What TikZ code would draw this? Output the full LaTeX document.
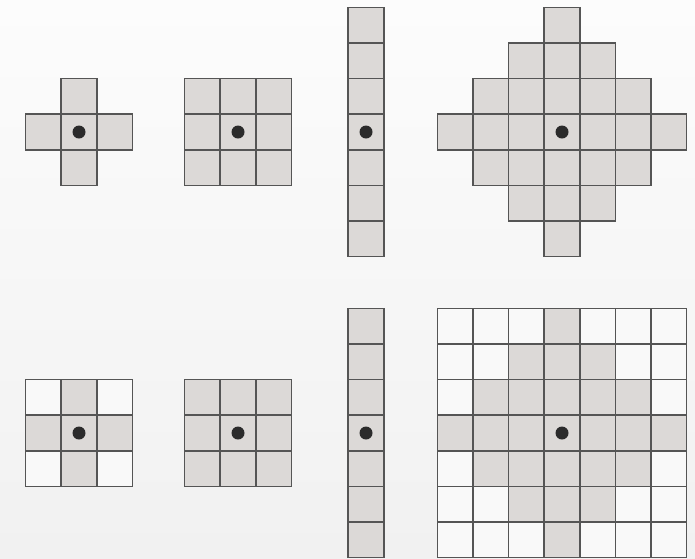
\documentclass[tikz,border=0pt]{standalone}
\definecolor{cellgray}{HTML}{DCD9D7}
\definecolor{cellwhite}{HTML}{F9F9F9}
\definecolor{gridline}{HTML}{555555}
\definecolor{dotc}{HTML}{2B2B2B}
\definecolor{bgtop}{HTML}{FCFCFC}
\definecolor{bgbottom}{HTML}{F1F1F1}
\tikzset{
  gcell/.style={fill=cellgray,draw=gridline,line width=1.5pt},
  wcell/.style={fill=cellwhite,draw=gridline,line width=1.5pt},
  centerdot/.style={fill=dotc}
}
\def\s{35.6}
\newcommand\drawcell[5]{\path[#1] ({#2+(#4-0.5)*\s},{#3+(#5-0.5)*\s}) rectangle ++(\s,\s);}
\newcommand\kdot[2]{\fill[centerdot] (#1,#2) circle (6.5);}
\begin{document}
\begin{tikzpicture}[x=1pt,y=-1pt]
\useasboundingbox (0,0) rectangle (695,558);
\shade[top color=bgtop,bottom color=bgbottom] (0,0) rectangle (695,558);
% top row
% cross
\foreach \i/\j in {0/-1,-1/0,0/0,1/0,0/1} {\drawcell{gcell}{79}{132}{\i}{\j}}
\kdot{79}{132}
% 3x3
\foreach \i in {-1,0,1} \foreach \j in {-1,0,1} {\drawcell{gcell}{238}{132}{\i}{\j}}
\kdot{238}{132}
% vertical bar
\foreach \j in {-3,...,3} {\drawcell{gcell}{366}{132}{0}{\j}}
\kdot{366}{132}
% diamond
\foreach \i in {-3,...,3} \foreach \j in {-3,...,3} {
  \pgfmathtruncatemacro\dd{abs(\i)+abs(\j)}
  \ifnum\dd<4 \drawcell{gcell}{562}{132}{\i}{\j}\fi
}
\kdot{562}{132}
% bottom row
\foreach \i in {-1,0,1} \foreach \j in {-1,0,1} {
  \pgfmathtruncatemacro\dd{abs(\i)+abs(\j)}
  \ifnum\dd<2 \drawcell{gcell}{79}{433}{\i}{\j}\else \drawcell{wcell}{79}{433}{\i}{\j}\fi
}
\kdot{79}{433}
\foreach \i in {-1,0,1} \foreach \j in {-1,0,1} {\drawcell{gcell}{238}{433}{\i}{\j}}
\kdot{238}{433}
\foreach \j in {-3,...,3} {\drawcell{gcell}{366}{433}{0}{\j}}
\kdot{366}{433}
\foreach \i in {-3,...,3} \foreach \j in {-3,...,3} {
  \pgfmathtruncatemacro\dd{abs(\i)+abs(\j)}
  \ifnum\dd<4 \drawcell{gcell}{562}{433}{\i}{\j}\else \drawcell{wcell}{562}{433}{\i}{\j}\fi
}
\kdot{562}{433}
\end{tikzpicture}
\end{document}
